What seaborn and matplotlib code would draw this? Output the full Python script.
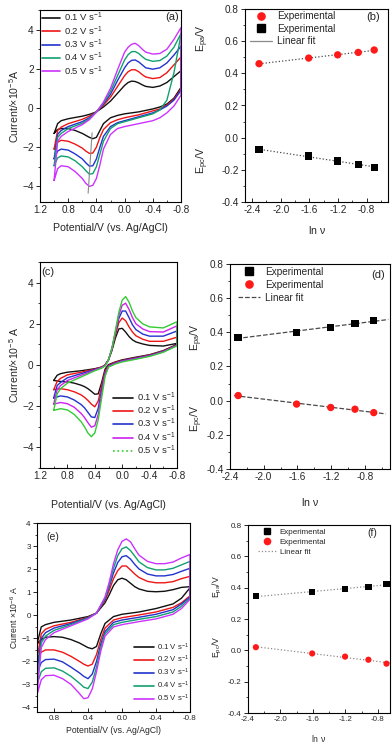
import numpy as np
import pandas as pd
import seaborn as sns
import matplotlib.pyplot as plt
from matplotlib.lines import Line2D
from matplotlib.ticker import AutoMinorLocator, FormatStrFormatter

W, H = 392, 743

rates = ["0.1", "0.2", "0.3", "0.4", "0.5"]
ln_v = [-2.303, -1.609, -1.204, -0.916, -0.693]

# ---------------- panel (a) ----------------
a_lower_E = [1.0, 0.95, 0.9, 0.8, 0.7, 0.6, 0.55, 0.5, 0.45, 0.4, 0.35, 0.3, 0.2, 0.1, 0.0,
             -0.2, -0.4, -0.5, -0.6, -0.7, -0.8]
a_lower_I = [
    [-1.3, -1.1, -1.05, -1.05, -1.15, -1.3, -1.4, -1.5, -1.57, -1.5, -1.15, -0.8, -0.5, -0.38, -0.3,
     -0.2, -0.05, 0.05, 0.2, 0.5, 1.05],
    [-2.1, -1.75, -1.65, -1.7, -1.85, -2.05, -2.2, -2.32, -2.3, -2.0, -1.5, -1.1, -0.75, -0.6, -0.5,
     -0.35, -0.15, -0.05, 0.15, 0.45, 0.95],
    [-2.6, -2.2, -2.1, -2.15, -2.35, -2.6, -2.8, -2.97, -2.95, -2.6, -2.0, -1.45, -0.95, -0.75, -0.65,
     -0.45, -0.25, -0.1, 0.1, 0.4, 0.9],
    [-2.95, -2.55, -2.45, -2.5, -2.7, -3.0, -3.2, -3.38, -3.35, -3.0, -2.35, -1.7, -1.05, -0.8, -0.7,
     -0.5, -0.3, -0.1, 0.4, 1.8, 3.75],
    [-3.7, -3.1, -2.95, -3.0, -3.25, -3.6, -3.85, -4.0, -3.95, -3.6, -2.9, -2.1, -1.35, -1.05, -0.95,
     -0.8, -0.65, -0.5, -0.25, 0.1, 0.65],
]
a_upper_E = [-0.8, -0.7, -0.6, -0.5, -0.4, -0.3, -0.25, -0.2, -0.15, -0.1, -0.05, 0.0, 0.1, 0.2,
             0.3, 0.4, 0.5, 0.6, 0.8, 0.9, 0.95, 1.0]
a_upper_I = [
    [1.9, 1.6, 1.3, 1.12, 1.05, 1.1, 1.18, 1.28, 1.35, 1.37, 1.3, 1.15, 0.75, 0.35,
     0.05, -0.2, -0.33, -0.42, -0.55, -0.65, -0.8, -1.3],
    [2.6, 2.2, 1.8, 1.55, 1.5, 1.58, 1.7, 1.85, 1.95, 1.95, 1.85, 1.65, 1.1, 0.55,
     0.15, -0.2, -0.42, -0.58, -0.8, -0.98, -1.15, -2.1],
    [3.15, 2.7, 2.3, 2.05, 1.98, 2.05, 2.2, 2.35, 2.45, 2.43, 2.3, 2.05, 1.4, 0.7,
     0.2, -0.2, -0.5, -0.7, -0.95, -1.15, -1.35, -2.6],
    [3.8, 3.1, 2.65, 2.42, 2.38, 2.48, 2.62, 2.78, 2.88, 2.87, 2.72, 2.45, 1.65, 0.85,
     0.25, -0.2, -0.55, -0.78, -1.05, -1.3, -1.5, -2.95],
    [4.1, 3.5, 3.0, 2.78, 2.75, 2.85, 3.0, 3.18, 3.3, 3.25, 3.1, 2.85, 1.95, 1.0,
     0.3, -0.22, -0.6, -0.85, -1.2, -1.45, -1.7, -3.7],
]

# ---------------- panel (c) ----------------
c_lower_E = [1.0, 0.9, 0.8, 0.7, 0.6, 0.55, 0.5, 0.45, 0.4, 0.35, 0.3, 0.25, 0.2, 0.1, 0.0,
             -0.2, -0.4, -0.6, -0.8]
c_lower_I = [
    [-0.75, -0.8, -0.82, -0.88, -0.98, -1.05, -1.15, -1.28, -1.42, -1.4, -0.85, -0.2, 0.02, 0.15, 0.25,
     0.38, 0.5, 0.7, 1.0],
    [-1.2, -1.15, -1.2, -1.3, -1.45, -1.57, -1.72, -1.9, -2.03, -1.75, -1.0, -0.3, -0.02, 0.13, 0.22,
     0.35, 0.48, 0.68, 0.98],
    [-1.6, -1.5, -1.55, -1.7, -1.92, -2.08, -2.3, -2.52, -2.55, -2.1, -1.2, -0.4, -0.05, 0.1, 0.2,
     0.33, 0.46, 0.66, 0.96],
    [-1.9, -1.82, -1.88, -2.05, -2.35, -2.55, -2.8, -3.02, -2.95, -2.4, -1.4, -0.45, -0.08, 0.08, 0.18,
     0.31, 0.44, 0.64, 0.95],
    [-2.2, -2.12, -2.18, -2.4, -2.75, -3.0, -3.3, -3.48, -3.3, -2.65, -1.6, -0.55, -0.1, 0.05, 0.15,
     0.28, 0.42, 0.62, 0.93],
]
c_upper_E = [-0.8, -0.6, -0.4, -0.3, -0.2, -0.15, -0.1, -0.05, 0.0, 0.05, 0.1, 0.15, 0.2, 0.25,
             0.3, 0.4, 0.6, 0.8, 0.9, 0.95, 1.0]
c_upper_I = [
    [1.05, 0.92, 0.95, 1.02, 1.12, 1.22, 1.38, 1.6, 1.78, 1.75, 1.3, 0.7, 0.25, 0.0,
     -0.1, -0.18, -0.28, -0.35, -0.42, -0.5, -0.75],
    [1.35, 1.15, 1.15, 1.25, 1.42, 1.6, 1.85, 2.15, 2.28, 2.05, 1.45, 0.75, 0.25, 0.0,
     -0.1, -0.2, -0.35, -0.48, -0.65, -0.8, -1.2],
    [1.65, 1.4, 1.4, 1.5, 1.72, 1.95, 2.3, 2.62, 2.62, 2.25, 1.55, 0.8, 0.25, -0.02,
     -0.12, -0.22, -0.42, -0.62, -0.85, -1.0, -1.6],
    [1.9, 1.6, 1.62, 1.75, 2.0, 2.3, 2.7, 3.0, 2.9, 2.4, 1.6, 0.8, 0.25, -0.03,
     -0.13, -0.25, -0.5, -0.75, -1.0, -1.2, -1.9],
    [2.1, 1.8, 1.85, 2.0, 2.3, 2.62, 3.05, 3.32, 3.15, 2.55, 1.65, 0.8, 0.25, -0.05,
     -0.15, -0.28, -0.58, -0.88, -1.15, -1.4, -2.2],
]

# ---------------- panel (e) ----------------
e_lower_E = [1.0, 0.95, 0.9, 0.8, 0.7, 0.6, 0.5, 0.45, 0.4, 0.35, 0.3, 0.25, 0.2, 0.1, 0.0,
             -0.2, -0.4, -0.6, -0.7, -0.8]
e_lower_I = [
    [-1.25, -1.05, -0.95, -0.92, -0.95, -1.05, -1.2, -1.3, -1.4, -1.45, -1.35, -0.8, -0.35, -0.05, 0.05,
     0.15, 0.3, 0.5, 0.75, 1.2],
    [-1.9, -1.6, -1.5, -1.5, -1.6, -1.78, -2.0, -2.12, -2.2, -2.12, -1.7, -1.05, -0.55, -0.2, -0.1,
     0.02, 0.15, 0.35, 0.55, 0.85],
    [-2.5, -2.05, -1.92, -1.9, -2.02, -2.25, -2.5, -2.65, -2.75, -2.55, -2.0, -1.25, -0.7, -0.3, -0.2,
     -0.08, 0.05, 0.25, 0.5, 0.8],
    [-3.0, -2.45, -2.3, -2.28, -2.42, -2.65, -2.95, -3.12, -3.18, -2.9, -2.25, -1.4, -0.8, -0.4, -0.3,
     -0.17, -0.05, 0.15, 0.4, 0.75],
    [-3.45, -2.8, -2.62, -2.6, -2.75, -3.0, -3.4, -3.62, -3.58, -3.2, -2.45, -1.55, -0.9, -0.5, -0.4,
     -0.27, -0.15, 0.05, 0.3, 0.7],
]
e_upper_E = [-0.8, -0.7, -0.6, -0.5, -0.4, -0.3, -0.2, -0.15, -0.1, -0.05, 0.0, 0.05, 0.1, 0.15,
             0.2, 0.3, 0.4, 0.6, 0.8, 0.9, 0.95, 1.0]
e_upper_I = [
    [1.25, 1.22, 1.12, 1.05, 1.03, 1.05, 1.15, 1.25, 1.4, 1.55, 1.62, 1.55, 1.3, 0.9,
     0.55, 0.1, -0.05, -0.2, -0.3, -0.4, -0.5, -1.25],
    [1.7, 1.6, 1.47, 1.42, 1.42, 1.48, 1.65, 1.8, 1.98, 2.15, 2.15, 1.95, 1.6, 1.1,
     0.65, 0.1, -0.08, -0.3, -0.45, -0.6, -0.8, -1.9],
    [2.05, 1.92, 1.78, 1.72, 1.72, 1.8, 2.02, 2.22, 2.45, 2.6, 2.55, 2.3, 1.85, 1.25,
     0.7, 0.1, -0.1, -0.35, -0.55, -0.75, -1.0, -2.5],
    [2.35, 2.2, 2.05, 1.98, 1.98, 2.08, 2.33, 2.58, 2.82, 2.98, 2.9, 2.6, 2.05, 1.35,
     0.75, 0.1, -0.12, -0.4, -0.65, -0.9, -1.2, -3.0],
    [2.65, 2.5, 2.32, 2.25, 2.25, 2.35, 2.62, 2.9, 3.2, 3.33, 3.22, 2.85, 2.25, 1.45,
     0.8, 0.1, -0.15, -0.45, -0.75, -1.05, -1.4, -3.45],
]

# ---------------- peak potentials vs ln v ----------------
b_epa = [0.46, 0.495, 0.515, 0.53, 0.545]
b_epc = [-0.075, -0.115, -0.145, -0.165, -0.185]
d_epa = [0.37, 0.40, 0.43, 0.45, 0.47]
d_epc = [0.03, -0.02, -0.04, -0.05, -0.07]
f_epa = [0.345, 0.372, 0.393, 0.405, 0.423]
f_epc = [0.02, -0.02, -0.04, -0.06, -0.085]

pal_a = ["#111111", "#ee1515", "#2233cc", "#12a070", "#cc33ff"]
pal_c = ["#111111", "#ee1515", "#2233cc", "#cc22ee", "#33cc33"]

sns.set_theme(style="ticks")
plt.rcParams["font.family"] = ["Liberation Sans", "DejaVu Sans"]
plt.rcParams["axes.linewidth"] = 0.8
plt.rcParams["mathtext.default"] = "regular"

fig = plt.figure(figsize=(W / 100, H / 100), dpi=100)


def add_px(x0, y0, x1, y1):
    return fig.add_axes([x0 / W, 1 - y1 / H, (x1 - x0) / W, (y1 - y0) / H])


def cv_frame(lower_E, lower_I, upper_E, upper_I):
    rows = []
    for r, lo, up in zip(rates, lower_I, upper_I):
        E = list(lower_E) + list(upper_E)
        I = list(lo) + list(up)
        for k, (e, i) in enumerate(zip(E, I)):
            rows.append((r, k, e, i))
    return pd.DataFrame(rows, columns=["rate", "step", "E", "I"])


def style_axes(ax, fs):
    for s in ax.spines.values():
        s.set_visible(True)
        s.set_color("black")
        s.set_linewidth(0.8)
    ax.xaxis.set_minor_locator(AutoMinorLocator(2))
    ax.yaxis.set_minor_locator(AutoMinorLocator(2))
    ax.tick_params(axis="x", which="major", direction="in", length=3, width=0.7, labelsize=fs, pad=2)
    ax.tick_params(axis="x", which="minor", direction="in", length=1.6, width=0.6)
    ax.tick_params(axis="y", which="major", direction="out", length=3, width=0.7, labelsize=fs, pad=1.5)
    ax.tick_params(axis="y", which="minor", direction="out", length=1.6, width=0.6)
    ax.set_facecolor("white")


def cv_panel(box, lower_E, lower_I, upper_E, upper_I, pal, xlim, xticks, ylim, yticks,
             ylabel, fs, lw):
    ax = add_px(*box)
    df = cv_frame(lower_E, lower_I, upper_E, upper_I)
    sns.lineplot(data=df, x="E", y="I", hue="rate", palette=pal, sort=False,
                 estimator=None, lw=lw, legend=False, ax=ax)
    ax.set_xlim(xlim)
    ax.set_ylim(ylim)
    ax.set_xticks(xticks)
    ax.set_yticks(yticks)
    ax.xaxis.set_major_formatter(FormatStrFormatter("%.1f"))
    ax.set_xlabel("Potential/V (vs. Ag/AgCl)", fontsize=fs + 0.4)
    ax.set_ylabel(ylabel, fontsize=fs + 0.4, labelpad=1)
    style_axes(ax, fs)
    return ax


def ep_panel(box, upper, lower, upper_is_red, fit_ls, fit_color, fit_span, xlim, ms, fs):
    ax = add_px(*box)
    up_m, lo_m = ("o", "s") if upper_is_red else ("s", "o")
    up_c, lo_c = ("#ff1a1a", "black") if upper_is_red else ("black", "#ff1a1a")
    for vals, span in ((upper, fit_span[0]), (lower, fit_span[1])):
        k, b = np.polyfit(ln_v, vals, 1)
        xs = np.array(span)
        ax.plot(xs, k * xs + b, ls=fit_ls, color=fit_color, lw=0.9, zorder=1)
    sns.scatterplot(x=ln_v, y=upper, marker=up_m, color=up_c, s=ms, edgecolor="none", ax=ax, zorder=3)
    sns.scatterplot(x=ln_v, y=lower, marker=lo_m, color=lo_c, s=ms, edgecolor="none", ax=ax, zorder=3)
    ax.set_xlim(xlim)
    ax.set_ylim(-0.4, 0.8)
    ax.set_xticks([-2.4, -2.0, -1.6, -1.2, -0.8])
    ax.set_yticks([-0.4, -0.2, 0.0, 0.2, 0.4, 0.6, 0.8])
    ax.xaxis.set_major_formatter(FormatStrFormatter("%.1f"))
    ax.yaxis.set_major_formatter(FormatStrFormatter("%.1f"))
    ax.set_xlabel(r"ln $\nu$", fontsize=fs + 0.4)
    style_axes(ax, fs)
    return ax


def frac(box, x, y):
    x0, y0, x1, y1 = box
    return (x - x0) / (x1 - x0), (y1 - y) / (y1 - y0)


def cv_legend(ax, box, pal, anchor_px, loc, fs, hl, ls, last_ls="-"):
    handles = [Line2D([], [], color=c, lw=1.2) for c in pal]
    handles[-1].set_linestyle(last_ls)
    labels = [f"{r} V s$^{{-1}}$" for r in rates]
    ax.legend(handles, labels, loc=loc, bbox_to_anchor=frac(box, *anchor_px), frameon=False,
              fontsize=fs, handlelength=hl, handletextpad=0.4, labelspacing=ls, borderaxespad=0,
              borderpad=0)


def ep_legend(ax, box, upper_is_red, fit_ls, fit_color, anchor_px, fs, ms, ls):
    sq = Line2D([], [], ls="none", marker="s", color="black", ms=ms)
    ci = Line2D([], [], ls="none", marker="o", color="#ff1a1a", ms=ms)
    fit = Line2D([], [], ls=fit_ls, color=fit_color, lw=0.9)
    handles = [ci, sq, fit] if upper_is_red else [sq, ci, fit]
    ax.legend(handles, ["Experimental", "Experimental", "Linear fit"], loc="upper left",
              bbox_to_anchor=frac(box, *anchor_px), frameon=False, fontsize=fs,
              handlelength=2.2, handletextpad=0.5, labelspacing=ls, borderaxespad=0, borderpad=0)


# ---- row 1
box_a = (40, 10, 181, 202)
ax_a = cv_panel(box_a, a_lower_E, a_lower_I, a_upper_E, a_upper_I, pal_a, (1.2, -0.8),
                [1.2, 0.8, 0.4, 0.0, -0.4, -0.8], (-4.8, 5.0), [-4, -2, 0, 2, 4],
                r"Current/$\times$10$^{-5}$A", 7.2, 1.0)
ax_a.xaxis.labelpad = 6
# peak trend lines
for branch_E, branch_I, pick, ext in ((a_upper_E, a_upper_I, np.argmax, (-0.55, 0.6)),
                                      (a_lower_E, a_lower_I, np.argmin, (-0.35, 0.3))):
    pk_I = [vals[pick(vals)] for vals in branch_I]
    pk_E = [branch_E[pick(vals)] for vals in branch_I]
    k, b = np.polyfit(pk_I, pk_E, 1)
    ii = np.array([min(pk_I) + ext[0], max(pk_I) + ext[1]])
    ax_a.plot(k * ii + b, ii, color="#8a8a8a", lw=0.8, zorder=5)
cv_legend(ax_a, box_a, pal_a, (42, 11), "upper left", 6.8, 1.9, 0.0)
ax_a.text(*frac(box_a, 172, 17), "(a)", transform=ax_a.transAxes, fontsize=8, ha="center", va="center")

box_b = (245, 9, 388, 202)
ax_b = ep_panel(box_b, b_epa, b_epc, True, ":", "#4a4a4a", ((-2.35, -0.65), (-2.33, -0.68)),
                (-2.5, -0.5), 28, 7.2)
ax_b.xaxis.labelpad = 7
ep_legend(ax_b, box_b, True, "-", "#8a8a8a", (250, 11), 7.2, 5.2, 0.25)
ax_b.text(*frac(box_b, 373, 17), "(b)", transform=ax_b.transAxes, fontsize=8, ha="center", va="center")

# ---- row 2
box_c = (40, 262, 177, 468)
ax_c = cv_panel(box_c, c_lower_E, c_lower_I, c_upper_E, c_upper_I, pal_c, (1.2, -0.8),
                [1.2, 0.8, 0.4, 0.0, -0.4, -0.8], (-5.0, 5.0), [-4, -2, 0, 2, 4],
                r"Current/$\times$10$^{-5}$ A", 7.2, 1.0)
ax_c.xaxis.labelpad = 14
cv_legend(ax_c, box_c, pal_c, (176, 457), "lower right", 6.8, 2.2, 0.0, last_ls=":")
ax_c.text(*frac(box_c, 48, 272), "(c)", transform=ax_c.transAxes, fontsize=8, ha="center", va="center")

box_d = (230, 264, 390, 469)
ax_d = ep_panel(box_d, d_epa, d_epc, False, "--", "#4a4a4a", ((-2.32, -0.52), (-2.35, -0.55)),
                (-2.4, -0.5), 28, 7.2)
ax_d.xaxis.labelpad = 10
ep_legend(ax_d, box_d, False, "--", "#4a4a4a", (238, 267), 7.2, 5.2, 0.3)
ax_d.text(*frac(box_d, 378, 275), "(d)", transform=ax_d.transAxes, fontsize=8, ha="center", va="center")

# ---- row 3
box_e = (37, 523, 190, 712)
ax_e = cv_panel(box_e, e_lower_E, e_lower_I, e_upper_E, e_upper_I, pal_a, (1.0, -0.8),
                [0.8, 0.4, 0.0, -0.4, -0.8], (-4.2, 4.02), [-4, -3, -2, -1, 0, 1, 2, 3, 4],
                r"Current $\times$10$^{-6}$ A", 5.8, 1.0)
ax_e.xaxis.labelpad = 3
cv_legend(ax_e, box_e, pal_a, (189, 704), "lower right", 5.6, 2.5, 0.2)
ax_e.text(*frac(box_e, 53, 537), "(e)", transform=ax_e.transAxes, fontsize=7.5, ha="center", va="center")

box_f = (248, 525, 390, 713)
ax_f = ep_panel(box_f, f_epa, f_epc, False, ":", "#8c8c8c", ((-2.32, -0.65), (-2.32, -0.65)),
                (-2.4, -0.65), 20, 5.8)
ax_f.xaxis.labelpad = 7
ep_legend(ax_f, box_f, False, ":", "#8c8c8c", (258, 528), 5.8, 4.5, 0.3)
ax_f.text(*frac(box_f, 372, 533), "(f)", transform=ax_f.transAxes, fontsize=7.5, ha="center", va="center")

# two-part y labels of the peak potential panels
for x, y_pa, y_pc, fs in ((203, 38, 160, 7.6), (197, 337, 418, 7.6), (217, 587, 647, 6.2)):
    fig.text(x / W, 1 - y_pa / H, "E$_{pa}$/V", rotation=90, ha="center", va="center", fontsize=fs)
    fig.text(x / W, 1 - y_pc / H, "E$_{pc}$/V", rotation=90, ha="center", va="center", fontsize=fs)

fig.savefig("out.png", dpi=100, facecolor="white")
